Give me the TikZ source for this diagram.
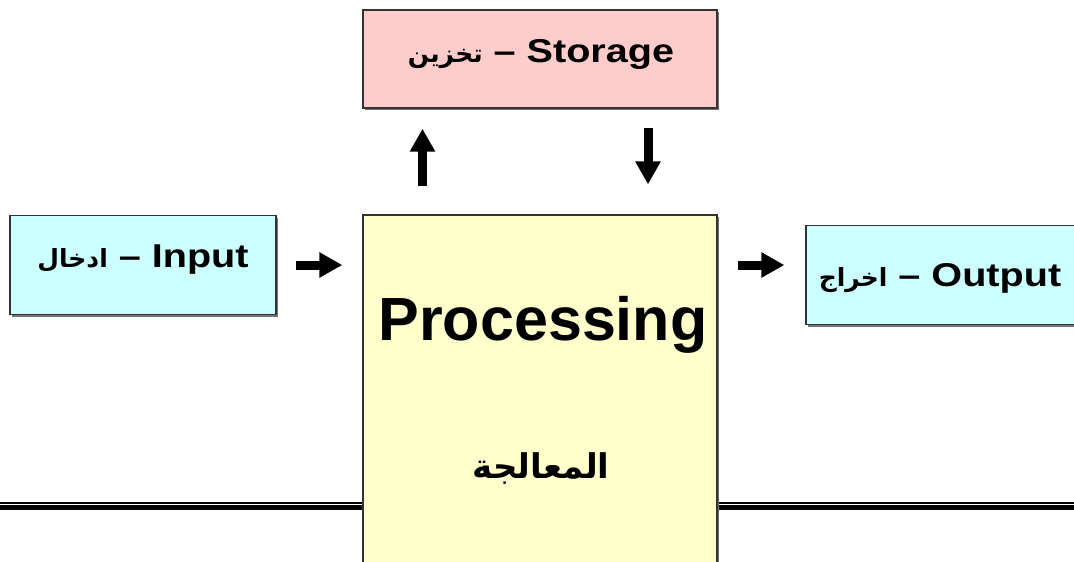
\documentclass[tikz,border=0pt]{standalone}
\usepackage{fontspec}
\usepackage{tikz}
\usepackage{xcolor}
\usetikzlibrary{positioning,arrows.meta,shadows}
\TeXXeTstate=1
\setmainfont{Liberation Sans}
\newfontfamily\labelfont{Liberation Sans}[FakeStretch=1.2]
\newfontfamily\arabicfont[Script=Arabic]{DejaVu Sans}
\newcommand{\arword}[1]{{\arabicfont\bfseries\fontsize{25}{25}\selectfont\beginR #1\endR}}
\definecolor{StoragePink}{HTML}{FFCCCC}
\definecolor{IOCyan}{HTML}{CCFFFF}
\definecolor{ProcYellow}{HTML}{FFFFCC}
\definecolor{BoxBorder}{HTML}{333333}
\tikzset{
  box/.style={draw=BoxBorder, line width=1.3pt, inner sep=0pt,
    drop shadow={shadow xshift=2pt, shadow yshift=-2pt, fill=black!55, opacity=1}},
  blockarrow/.style={line width=9pt, -{Triangle[length=23pt, width=24pt]}},
  boxtext/.style={anchor=base, inner sep=0pt, font=\labelfont\bfseries\fontsize{33}{33}\selectfont}
}

\begin{document}
\begin{tikzpicture}[x=1pt, y=-1pt]
  \useasboundingbox (0,0) rectangle (1074,562);

  % Double rule behind the processing box
  \draw[line width=2pt] (0,503) -- (1074,503);
  \draw[line width=4.5pt] (0,507.5) -- (1074,507.5);

  % Boxes
  \node[box, fill=StoragePink, minimum width=354pt, minimum height=98pt] (storage) at (540,59) {};
  \node[box, fill=IOCyan, minimum width=266pt, minimum height=99pt] (input) at (143,265) {};
  \node[box, fill=ProcYellow, minimum width=354pt, minimum height=360pt] (proc) at (540,395) {};
  \node[box, fill=IOCyan, minimum width=274pt, minimum height=99pt] (output) at (943,275) {};

  % Box texts
  \node[boxtext] (storagetxt) at (541,62) {\arword{تخزين} – Storage};
  \node[boxtext] (inputtxt) at (143,267) {\arword{ادخال} – Input};
  \node[boxtext] (outputtxt) at (940,286) {\arword{اخراج} – Output};
  \node[anchor=base, inner sep=0pt, font=\bfseries\fontsize{61}{61}\selectfont] (proctxt) at (543,340) {Processing};
  \node[anchor=base, inner sep=0pt, font=\arabicfont\bfseries\fontsize{34}{34}\selectfont] (procar) at (541,478) {\beginR المعالجة\endR};

  % Arrows
  \coordinate (upx) at (422.5,0);
  \coordinate (downx) at (648,0);
  \draw[blockarrow, shorten <=19pt, shorten >=20pt] (input.east) -- (input.east -| proc.west);
  \draw[blockarrow, shorten <=20pt, shorten >=21pt] (proc.east |- input.east) -- (output.west |- input.east);
  \draw[blockarrow, shorten <=28pt, shorten >=20pt] (proc.north -| upx) -- (storage.south -| upx);
  \draw[blockarrow, shorten <=19pt, shorten >=30pt] (storage.south -| downx) -- (proc.north -| downx);
\end{tikzpicture}
\end{document}
